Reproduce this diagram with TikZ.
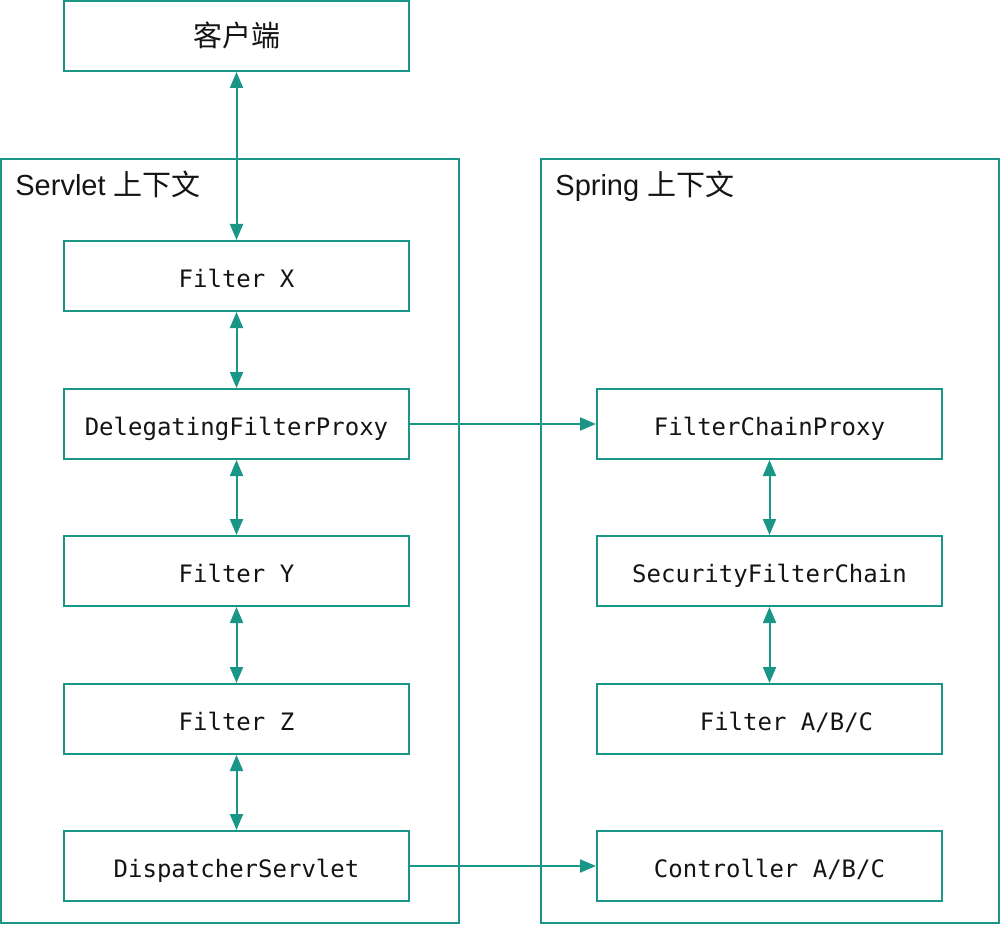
\documentclass[tikz,border=0pt]{standalone}
\usepackage{fontspec}
\setmainfont{Liberation Sans}
\setmonofont{DejaVu Sans Mono}
\newfontfamily\cjk{Noto Sans CJK SC}
\usetikzlibrary{positioning,arrows.meta}
\definecolor{teal}{RGB}{26,150,136}
\definecolor{ink}{RGB}{20,20,20}

\begin{document}
\begin{tikzpicture}[x=0.5pt,y=-0.5pt,
    box/.style={draw=teal,line width=1pt,minimum width=172.5pt,minimum height=35pt,inner sep=0pt,
        text height=11pt,text depth=0pt,text=ink,font=\ttfamily\fontsize{12}{14}\selectfont},
    ctx/.style={draw=teal,line width=1pt,minimum width=229pt,minimum height=382pt,inner sep=0pt},
    ctxlabel/.style={anchor=base west,inner sep=0pt,text=ink,font=\fontsize{14.5}{17}\selectfont}]
    \useasboundingbox (0,0) rectangle (1000,925);

    % contexts
    \node[ctx] (servlet) at (230,541) {};
    \node[ctx] (spring)  at (769.5,541) {};
    \node[ctxlabel] (servletlbl) at (15,196) {Servlet {\cjk 上下文}};
    \node[ctxlabel] (springlbl)  at (555,196) {Spring {\cjk 上下文}};

    % client
    \node[box,font=\cjk\fontsize{14.5}{17}\selectfont] (client) at (236.5,36) {客户端};

    % servlet filters
    \node[box] (fx)  at (236.5,276) {Filter X};
    \node[box] (dfp) at (236.5,424) {DelegatingFilterProxy};
    \node[box] (fy)  at (236.5,571) {Filter Y};
    \node[box] (fz)  at (236.5,719) {Filter Z};
    \node[box] (ds)  at (236.5,866) {DispatcherServlet};

    % spring side
    \node[box] (fcp)  at (769.5,424) {FilterChainProxy};
    \node[box] (sfc)  at (769.5,571) {SecurityFilterChain};
    \node[box] (fabc) at (769.5,719) {\hspace*{17pt}Filter A/B/C};
    \node[box] (cabc) at (769.5,866) {Controller A/B/C};

    \begin{scope}[draw=teal,line width=1pt,{Triangle[length=8pt,width=6.5pt]}-{Triangle[length=8pt,width=6.5pt]}]
        \draw (client) -- (fx);
        \draw (fx) -- (dfp);
        \draw (dfp) -- (fy);
        \draw (fy) -- (fz);
        \draw (fz) -- (ds);
        \draw (fcp) -- (sfc);
        \draw (sfc) -- (fabc);
    \end{scope}
    \begin{scope}[draw=teal,line width=1pt,-{Triangle[length=8pt,width=6.5pt]}]
        \draw (dfp) -- (fcp);
        \draw (ds) -- (cabc);
    \end{scope}
\end{tikzpicture}
\end{document}
